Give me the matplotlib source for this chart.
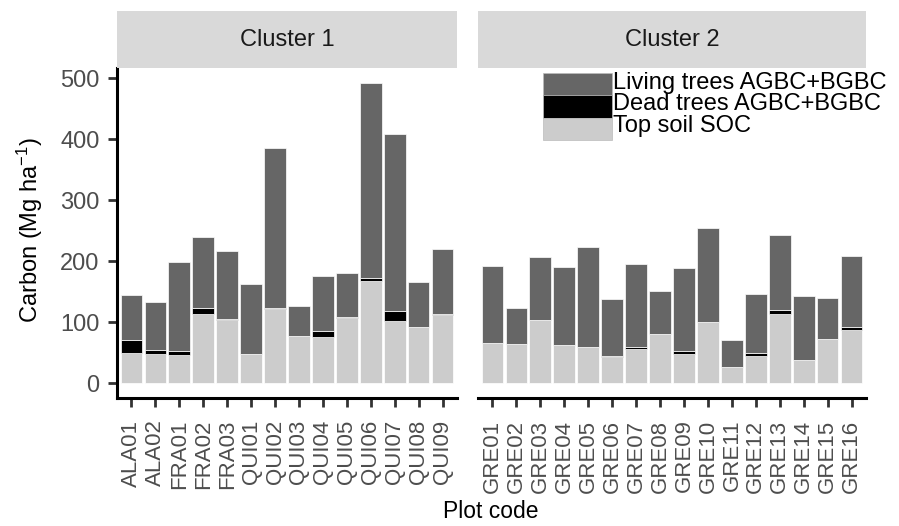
import matplotlib
matplotlib.use("Agg")
import matplotlib.pyplot as plt
from matplotlib.patches import Rectangle
import numpy as np

plt.rcParams['font.family'] = ['Liberation Sans', 'DejaVu Sans']
plt.rcParams['mathtext.fontset'] = 'custom'
plt.rcParams['mathtext.rm'] = 'Liberation Sans'
plt.rcParams['mathtext.it'] = 'Liberation Sans:italic'
plt.rcParams['mathtext.bf'] = 'Liberation Sans:bold'

# ---- data ----
cluster1_codes = ["ALA01", "ALA02", "FRA01", "FRA02", "FRA03", "QUI01", "QUI02",
                  "QUI03", "QUI04", "QUI05", "QUI06", "QUI07", "QUI08", "QUI09"]
cluster1_soil = [49, 48, 46, 113, 104, 48, 122, 77, 75.5, 107, 168, 102, 92, 111]
cluster1_dead = [21, 5.5, 6.5, 10, 0.5, 0, 0.5, 0.3, 10.5, 0.5, 5, 16, 0.5, 1.5]
cluster1_living = [75, 79.5, 146.5, 116, 111.5, 115, 262.5, 49, 90, 72.5, 319, 290, 73.5, 107.5]

cluster2_codes = ["GRE01", "GRE02", "GRE03", "GRE04", "GRE05", "GRE06", "GRE07", "GRE08",
                  "GRE09", "GRE10", "GRE11", "GRE12", "GRE13", "GRE14", "GRE15", "GRE16"]
cluster2_soil = [65, 64, 104, 62, 59, 43, 56, 81, 48, 100, 27, 45, 113, 38, 72, 87.6]
cluster2_dead = [0, 0, 0, 1, 0.5, 1, 2.5, 0, 4, 0, 0, 5, 6, 0.5, 0, 3.9]
cluster2_living = [127, 59, 103, 126.5, 163.5, 93.5, 136.5, 70, 136, 155, 43.6, 96, 124, 103.5, 68, 116.5]

panel_titles = ["Cluster 1", "Cluster 2"]
series_names = ["Living trees AGBC+BGBC", "Dead trees AGBC+BGBC", "Top soil SOC"]
yticks = [0, 100, 200, 300, 400, 500]

col_living = "#666666"
col_dead = "#000000"
col_soil = "#CCCCCC"

W, H = 899, 526
fig = plt.figure(figsize=(W / 100, H / 100), dpi=100)

def fx(px):
    return px / W

def fy(py):
    return 1 - py / H

panel_top, panel_bot = 68, 398
strip_top = 11
panels_x = [(117, 457), (478, 866)]

all_tot = [s + d + l for s, d, l in zip(cluster1_soil + cluster2_soil,
                                         cluster1_dead + cluster2_dead,
                                         cluster1_living + cluster2_living)]
ymax = max(all_tot)
ylim = (-0.05 * ymax, ymax * 1.05)

tick_color = "#333333"
label_color = "#4D4D4D"
fs = 17
fs_x = 16

data = [(cluster1_codes, cluster1_soil, cluster1_dead, cluster1_living),
        (cluster2_codes, cluster2_soil, cluster2_dead, cluster2_living)]

axes = []
for i, ((x0, x1), (codes, soil, dead, living)) in enumerate(zip(panels_x, data)):
    ax = fig.add_axes([fx(x0), fy(panel_bot), fx(x1 - x0), (panel_bot - panel_top) / H])
    x = np.arange(1, len(codes) + 1)
    soil = np.array(soil); dead = np.array(dead); living = np.array(living)
    kw = dict(width=0.9, edgecolor="white", linewidth=0.5)
    ax.bar(x, soil, color=col_soil, **kw)
    ax.bar(x, dead, bottom=soil, color=col_dead, **kw)
    ax.bar(x, living, bottom=soil + dead, color=col_living, **kw)
    ax.set_xlim(0.4, len(codes) + 0.6)
    ax.set_ylim(*ylim)
    ax.set_xticks(x)
    ax.set_xticklabels(codes, rotation=90, fontsize=fs_x, color=label_color)
    for s in ["top", "right"]:
        ax.spines[s].set_visible(False)
    ax.spines["bottom"].set_linewidth(2.2)
    ax.spines["bottom"].set_color("black")
    ax.tick_params(axis="x", length=6.5, width=2, color=tick_color, pad=9)
    if i == 0:
        ax.spines["left"].set_linewidth(2.2)
        ax.spines["left"].set_color("black")
        ax.set_yticks(yticks)
        ax.set_yticklabels([str(t) for t in yticks], fontsize=fs, color=label_color)
        ax.tick_params(axis="y", length=6.5, width=2, color=tick_color, pad=6)
    else:
        ax.spines["left"].set_visible(False)
        ax.set_yticks([])
    ax.set_facecolor("white")
    axes.append(ax)

    # strip
    sax = fig.add_axes([fx(x0), fy(panel_top), fx(x1 - x0), (panel_top - strip_top) / H])
    sax.set_facecolor("#D9D9D9")
    for s in sax.spines.values():
        s.set_visible(False)
    sax.set_xticks([]); sax.set_yticks([])
    sax.text(0.5, 0.5, panel_titles[i], ha="center", va="center",
             fontsize=fs, color="#1A1A1A", transform=sax.transAxes)

# axis titles
fig.text(fx(491), fy(512), "Plot code", ha="center", va="center", fontsize=16.5, color="black")
fig.text(fx(30), fy(230), r"Carbon (Mg ha$^{-1}$)", ha="center", va="center",
         rotation=90, fontsize=fs, color="black")

# legend (manual, figure pixel coordinates)
key_x0, key_x1 = 543, 612
row_tops = [73, 95.3, 117.6]
row_h = 22.3
colors = [col_living, col_dead, col_soil]
baselines = [89, 110.5, 132]
for name, c, top, bl in zip(series_names, colors, row_tops, baselines):
    fig.patches.append(Rectangle((fx(key_x0), fy(top + row_h)), fx(key_x1 - key_x0), row_h / H,
                                 transform=fig.transFigure, facecolor=c, edgecolor="#BBBBBB",
                                 linewidth=0.5, figure=fig))
    fig.text(fx(613), fy(bl), name, ha="left", va="baseline", fontsize=fs, color="black")

fig.savefig("out.png", dpi=100, facecolor="white")
